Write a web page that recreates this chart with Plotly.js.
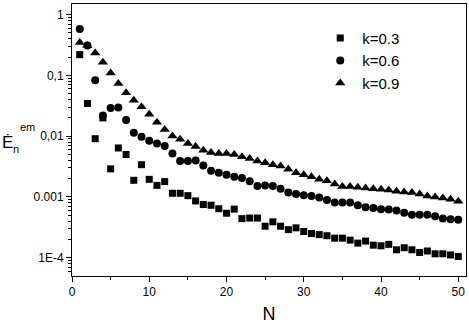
<!DOCTYPE html>
<html>
<head>
<meta charset="utf-8">
<script src="https://cdn.plot.ly/plotly-3.0.1.min.js"></script>
<style>
  html, body { margin: 0; padding: 0; background: #fff; }
  #chart { width: 469px; height: 324px; }
</style>
</head>
<body>
<div id="chart"></div>
<script>
// N = 1..50
var nValues = [];
for (let i = 1; i <= 50; i++) nValues.push(i);

// k = 0.3 (squares)
var k03 = [0.22, 0.0346, 0.0091, 0.020, 0.0029, 0.0064, 0.0050, 0.00188, 0.0034, 0.00195,
           0.00155, 0.00179, 0.00115, 0.00115, 0.00105, 0.00086, 0.00075, 0.00073, 0.00064, 0.00054,
           0.00063, 0.00044, 0.00045, 0.00045, 0.00033, 0.00039, 0.00033, 0.00029, 0.00031, 0.00027,
           0.00025, 0.00024, 0.00023, 0.00021, 0.00021, 0.000195, 0.000174, 0.000188, 0.000161, 0.000157,
           0.000166, 0.000135, 0.000146, 0.000135, 0.000122, 0.000129, 0.000116, 0.000116, 0.000111, 0.000105];

// k = 0.6 (circles)
var k06 = [0.58, 0.31, 0.083, 0.022, 0.029, 0.0297, 0.0184, 0.0114, 0.0098, 0.0084,
           0.0076, 0.0069, 0.0052, 0.0039, 0.0039, 0.0040, 0.0033, 0.0027, 0.0025, 0.00233,
           0.00216, 0.00205, 0.00181, 0.00152, 0.00155, 0.00152, 0.00137, 0.00118, 0.00112, 0.00107,
           0.00104, 0.00098, 0.00089, 0.00081, 0.00081, 0.00081, 0.00073, 0.00068, 0.00066, 0.00063,
           0.00062, 0.00060, 0.00055, 0.00051, 0.00051, 0.00051, 0.00048, 0.00044, 0.00043, 0.00042];

// k = 0.9 (triangles)
var k09 = [0.35, 0.31, 0.235, 0.165, 0.11, 0.074, 0.052, 0.039, 0.0305, 0.023,
           0.017, 0.0129, 0.0101, 0.0089, 0.0076, 0.0068, 0.0059, 0.0054, 0.0052, 0.0052,
           0.0050, 0.0046, 0.0043, 0.0039, 0.00367, 0.0034, 0.00323, 0.00285, 0.00251, 0.00233,
           0.00216, 0.00195, 0.00184, 0.00163, 0.00148, 0.00148, 0.00144, 0.00141, 0.00137, 0.00134,
           0.0013, 0.00124, 0.00121, 0.00118, 0.00112, 0.00104, 0.0010, 0.00096, 0.00092, 0.00085];

var seriesNames = ["k=0.3", "k=0.6", "k=0.9"];
var yTickVals = [1e-4, 1e-3, 1e-2, 1e-1, 1];
var yTickText = ["1E-4", "0.001", "0,01", "0,1", "1"];

// minor ticks 2..9 in each decade
var yMinor = [];
for (let d = -5; d <= 0; d++) {
    for (let m = 2; m <= 9; m++) {
        let v = m * Math.pow(10, d);
        if (v > 5e-5 && v < 1.5) yMinor.push(v);
    }
}

function makeTrace(y, name, symbol, size){
    return {
        type: "scatter",
        mode: "markers",
        name: name,
        x: nValues,
        y: y,
        marker: {symbol: symbol, size: size, color: "black"}
    };
}

var data = [
    makeTrace(k03, seriesNames[0], "square", 7),
    makeTrace(k06, seriesNames[1], "circle", 8),
    makeTrace(k09, seriesNames[2], "triangle-up", 9)
];

var font = "Liberation Sans, Arial, sans-serif";

// y axis label pieces: E with dot, subscript n, superscript em
function label(text, x, y, size){
    return {
        xref: "paper", yref: "paper",
        x: x, y: y, xanchor: "center", yanchor: "middle",
        showarrow: false,
        text: text,
        font: {family: font, size: size, color: "black"}
    };
}

var layout = {
    width: 469,
    height: 324,
    margin: {l: 72, r: 3, t: 4, b: 48},
    paper_bgcolor: "white",
    plot_bgcolor: "white",
    font: {family: font, color: "black", size: 11},
    showlegend: true,
    legend: {
        x: 0.625, y: 0.935, xanchor: "left", yanchor: "top",
        bgcolor: "rgba(0,0,0,0)",
        font: {family: font, size: 15, color: "black"},
        itemwidth: 34,
        tracegroupgap: 0
    },
    xaxis: {
        range: [0, 51],
        showline: true, mirror: true, linecolor: "black", linewidth: 1,
        showgrid: false, zeroline: false,
        ticks: "outside", ticklen: 5, tickcolor: "black",
        tickmode: "linear", tick0: 0, dtick: 10,
        minor: {ticks: "outside", ticklen: 3, tickcolor: "black", dtick: 5, tick0: 0, showgrid: false},
        tickfont: {family: font, size: 12},
        title: {text: "N", font: {family: font, size: 18}, standoff: 8}
    },
    yaxis: {
        type: "log",
        range: [Math.log10(5e-5), Math.log10(1.5)],
        showline: true, mirror: true, linecolor: "black", linewidth: 1,
        showgrid: false, zeroline: false,
        ticks: "outside", ticklen: 5, tickcolor: "black",
        tickmode: "array", tickvals: yTickVals, ticktext: yTickText,
        minor: {ticks: "outside", ticklen: 3, tickcolor: "black", tickmode: "array", tickvals: yMinor, showgrid: false},
        tickfont: {family: font, size: 12}
    },
    annotations: [
        label("Ė", -0.163, 0.49, 17),
        label("n", -0.143, 0.468, 11),
        label("em", -0.114, 0.548, 11)
    ]
};

Plotly.newPlot("chart", data, layout, {staticPlot: true});
</script>
</body>
</html>
